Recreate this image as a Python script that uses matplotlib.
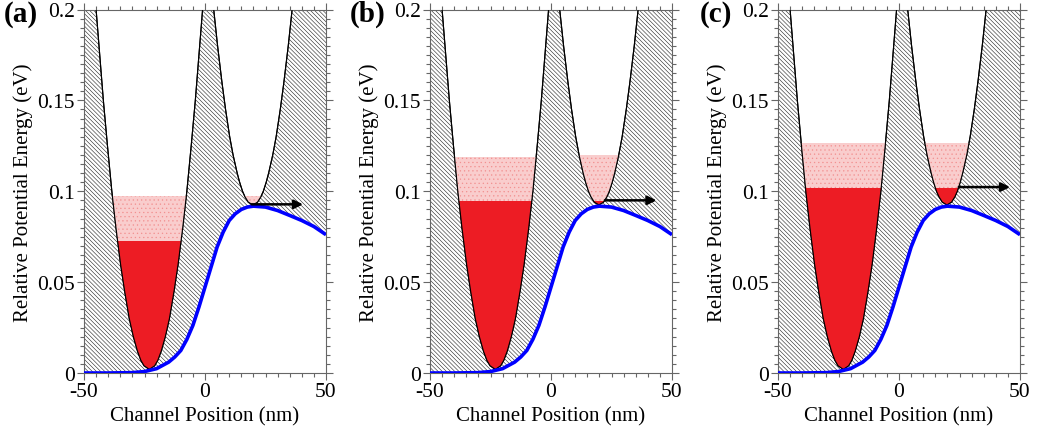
import matplotlib
matplotlib.use("Agg")
import matplotlib.pyplot as plt
import numpy as np
from matplotlib.patches import Polygon


# バンド端（青線）: 位置 nm とエネルギー eV
channel_x = [-50, -40, -30, -25, -20, -15, -12.5, -10, -7.5, -5, -2.5, 0, 2.5, 5,
             7.5, 10, 12.5, 15, 17.5, 20, 25, 30, 35, 40, 45, 50]
band_edge = [0, 0, 0.0002, 0.0008, 0.0024, 0.006, 0.0088, 0.0124, 0.0185, 0.0262,
             0.0363, 0.0473, 0.0583, 0.0693, 0.0775, 0.0839, 0.0876, 0.090, 0.0913,
             0.0918, 0.0913, 0.0894, 0.0867, 0.0839, 0.0806, 0.0761]

# 左の井戸: 底からの高さと半幅
left_center = -23.0
left_levels = [0.002, 0.004, 0.007, 0.012, 0.02, 0.03, 0.045, 0.06, 0.08, 0.1,
               0.125, 0.15, 0.175, 0.2, 0.21]
left_half = [0, 2.2, 3.5, 4.9, 6.6, 8.3, 10.2, 11.9, 13.8, 15.5, 17.3, 19.0,
             20.5, 22.0, 22.5]

# 右の井戸
right_center = 19.8
right_levels = [0.0925, 0.094, 0.097, 0.1, 0.105, 0.11, 0.12, 0.13, 0.145, 0.16,
                0.18, 0.2, 0.21]
right_half = [0, 1.9, 3.3, 4.3, 5.5, 6.5, 8.2, 9.6, 11.3, 12.8, 14.6, 16.2, 16.9]

# 各パネルの占有レベル（濃い赤、薄い赤）と矢印
panel_names = ["(a)", "(b)", "(c)"]
dark_level = [0.0725, 0.0944, 0.102]
light_left = [0.0975, 0.119, 0.1267]
light_right = [0.0975, 0.120, 0.1267]
arrow_y = [0.0928, 0.095, 0.1023]
arrow_start = [19.3, 22.3, 24.7]
arrow_end = [40.5, 43.6, 45.9]

x_ticks = [-50, 0, 50]
y_ticks = [0, 0.05, 0.1, 0.15, 0.2]
y_ticklabels = ["0", "0.05", "0.1", "0.15", "0.2"]

DARK_RED = "#ed1c24"
PINK = "#f9cdcd"


def well_patch(center, levels, half):
    lv = np.array(levels)
    hw = np.array(half)
    xs = np.concatenate([center - hw[::-1], center + hw])
    ys = np.concatenate([lv[::-1], lv])
    return Polygon(np.column_stack([xs, ys]), closed=True, facecolor="white",
                   edgecolor="black", linewidth=0.8, zorder=2)


def draw_panel(ax, i):
    # ハッチ領域（バンド端より上）
    ax.fill_between(channel_x, band_edge, 0.21, facecolor="white", edgecolor="#222222",
                    hatch="\\" * 8, linewidth=0, zorder=1)

    # 井戸
    lw = well_patch(left_center, left_levels, left_half)
    rw = well_patch(right_center, right_levels, right_half)
    ax.add_patch(lw)
    ax.add_patch(rw)

    # 電子の占有（井戸の形でクリップ）
    for patch, light in [(lw, light_left[i]), (rw, light_right[i])]:
        d = ax.fill_between([-50, 50], 0, dark_level[i], facecolor=DARK_RED,
                            linewidth=0, zorder=3)
        d.set_clip_path(patch)
        p = ax.fill_between([-50, 50], dark_level[i], light, facecolor=PINK,
                            edgecolor="#f29090", hatch="....", linewidth=0, zorder=3)
        p.set_clip_path(patch)

    # 井戸の輪郭をもう一度上に
    for c, lv, hw in [(left_center, left_levels, left_half),
                      (right_center, right_levels, right_half)]:
        outline = well_patch(c, lv, hw)
        outline.set_facecolor("none")
        outline.set_zorder(4)
        ax.add_patch(outline)

    ax.plot(channel_x, band_edge, color="#0000ff", linewidth=2.6, zorder=5,
            solid_capstyle="butt")

    ax.annotate("", xy=(arrow_end[i], arrow_y[i]), xytext=(arrow_start[i], arrow_y[i]),
                arrowprops=dict(arrowstyle="-|>", color="black", lw=1.8,
                                mutation_scale=13, shrinkA=0, shrinkB=0), zorder=6)

    ax.set_xlim(-50, 50)
    ax.set_ylim(0, 0.2)
    ax.set_xticks(x_ticks)
    ax.set_xticklabels([str(t) for t in x_ticks])
    ax.set_xticks(np.arange(-50, 51, 5), minor=True)
    ax.set_yticks(y_ticks)
    ax.set_yticklabels(y_ticklabels)
    ax.set_yticks(np.arange(0, 0.2001, 0.005), minor=True)
    ax.tick_params(which="both", direction="out", top=True, right=True,
                   color="#666666", labelsize=15.5, width=0.8)
    ax.tick_params(which="major", length=5, pad=1.5)
    ax.tick_params(which="minor", length=3)
    for s in ax.spines.values():
        s.set_color("#666666")
        s.set_linewidth(0.8)
    ax.set_xlabel("Channel Position (nm)", fontsize=15, labelpad=4)
    ax.set_ylabel("Relative Potential Energy (eV)", fontsize=15, labelpad=3)


def main():
    plt.rcParams["font.family"] = ["Liberation Serif", "DejaVu Serif"]
    plt.rcParams["hatch.linewidth"] = 0.4

    fig = plt.figure(figsize=(10.43, 4.35), dpi=100)
    lefts = [84 / 1043, 430 / 1043, 778 / 1043]
    label_x = [4 / 1043, 350 / 1043, 700 / 1043]
    for i in range(3):
        ax = fig.add_axes([lefts[i], 61 / 435, 242 / 1043, 363.5 / 435])
        draw_panel(ax, i)
        fig.text(label_x[i], 1 - 1 / 435, panel_names[i], fontsize=21,
                 fontweight="bold", ha="left", va="top")

    fig.savefig("out.png", dpi=100)


if __name__ == "__main__":
    main()
